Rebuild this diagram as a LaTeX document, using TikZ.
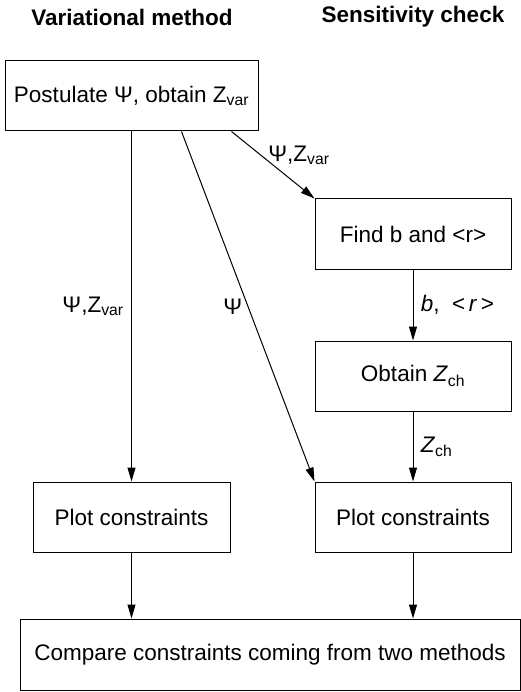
\documentclass[tikz,border=0pt]{standalone}
\usepackage{fontspec}
\setmainfont{Liberation Sans}
\usepackage{tikz}
\usetikzlibrary{
	arrows.meta,
	positioning
}
\newcommand{\lowtext}[1]{\textsubscript{#1}}

\begin{document}
\begin{tikzpicture}[->,>={Triangle[length=14pt,width=8pt]},line width=1pt,
        every node/.style={font=\fontsize{22.5}{27}\selectfont},
        box/.style={draw,rectangle,minimum width=196pt,minimum height=70pt,inner sep=4pt},
        head/.style={font=\fontsize{22.5}{27}\selectfont\bfseries}]
        \useasboundingbox (0pt,0pt) rectangle (521pt,-692pt);
        \node[box] (find) at (413pt,-234pt) {Find b and <r>};
        \node[box] (obtain) [below = 71pt of find] {Obtain \textit{Z}\lowtext{ch}};
        \node[box] (plotr) [below = 70pt of obtain] {Plot constraints};
        \node[box,minimum width=197pt] (plotl) [left = 84pt of plotr] {Plot constraints};
        \node[box,minimum width=253pt] (top) [above = 350pt of plotl] {Postulate Ψ, obtain Z\lowtext{var}};
        \node[box,minimum width=500pt,minimum height=71pt] (cmp) at (270pt,-654.5pt) {Compare constraints coming from two methods};
        \node[head] (tvar) at (132pt,-17pt) {Variational method};
        \node[head] (tsen) at (find |- tvar) {Sensitivity check};

          \draw (top) -- node[left = 4pt]{Ψ,Z\lowtext{var}} (plotl);
          \draw ([xshift=50pt]top.south) -- node[left = 2pt]{Ψ} (plotr.north west);
          \draw ([xshift=100pt]top.south) -- node[pos=0.35, right = 4pt]{Ψ,Z\lowtext{var}} (find.north west);

          \draw (find) -- node[right = 4pt]{\textit{b},~~<\,\textit{r}\,>} (obtain);
          \draw (obtain) -- node[right = 4pt]{\textit{Z}\lowtext{ch}} (plotr);

          \draw (plotl) -- (plotl |- cmp.north);
          \draw (plotr) -- (plotr |- cmp.north);

      \end{tikzpicture}
\end{document}
